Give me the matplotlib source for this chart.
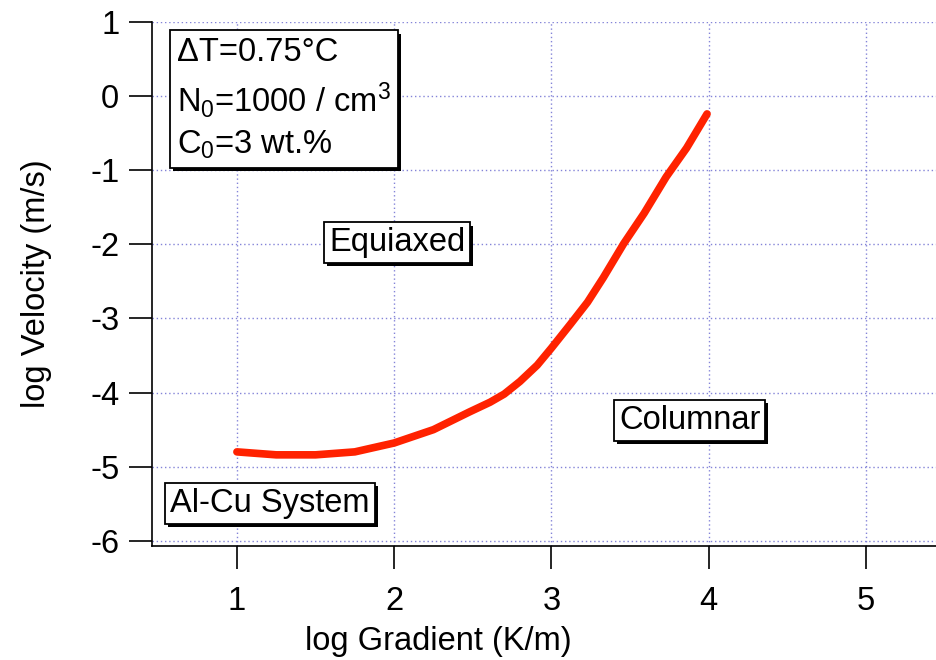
import matplotlib
matplotlib.use("Agg")
import matplotlib.pyplot as plt
import matplotlib.patheffects as pe

plt.rcParams['font.family'] = ['Liberation Sans', 'DejaVu Sans']
plt.rcParams['mathtext.fontset'] = 'custom'
plt.rcParams['mathtext.rm'] = 'Liberation Sans'
plt.rcParams['mathtext.default'] = 'regular'
plt.rcParams['axes.unicode_minus'] = False

# CET boundary
log_gradient = [1.0, 1.25, 1.5, 1.75, 2.0, 2.25, 2.48, 2.61, 2.70, 2.80, 2.91, 3.0, 3.12,
                3.23, 3.33, 3.46, 3.59, 3.73, 3.86, 3.99]
log_velocity = [-4.80, -4.84, -4.84, -4.80, -4.68, -4.50, -4.26, -4.13, -4.02, -3.85, -3.63, -3.40, -3.08,
                -2.78, -2.45, -1.99, -1.58, -1.09, -0.70, -0.24]

x_ticks = [1, 2, 3, 4, 5]
y_ticks = [1, 0, -1, -2, -3, -4, -5, -6]

info_lines = "ΔT=0.75°C\nN$_0$=1000 / cm$^3$\nC$_0$=3 wt.%"

fs = 23.5

fig = plt.figure(figsize=(9.36, 6.6), dpi=100)
ax = fig.add_axes([152/936, 114/660, 784/936, 524/660])

ax.plot(log_gradient, log_velocity, color='#ff2200', lw=5.5,
        solid_capstyle='round', solid_joinstyle='round')

ax.set_xlim(0.46, 5.446)
ax.set_ylim(-6.07, 1.0)
ax.set_xticks(x_ticks)
ax.set_yticks(y_ticks)
ax.grid(True, color='#8484d8', lw=1.0, linestyle=(0, (1, 2)))
ax.set_axisbelow(True)

for s in ['top', 'right']:
    ax.spines[s].set_visible(False)
for s in ['left', 'bottom']:
    ax.spines[s].set_linewidth(1.2)
ax.tick_params(direction='out', length=16.5, width=1.2, labelsize=fs)
ax.tick_params(axis='x', pad=12)
ax.tick_params(axis='y', pad=7)

ax.set_xlabel('log Gradient (K/m)', fontsize=fs)
ax.set_ylabel('log Velocity (m/s)', fontsize=fs)
ax.xaxis.set_label_coords(0.3655, -0.153)
ax.yaxis.set_label_coords(-0.128, 0.5)

shadow = [pe.withSimplePatchShadow(offset=(2.2, -2.2), shadow_rgbFace='k', alpha=1.0)]

def boxed(x, y, s, pad=0.15, **kw):
    t = ax.text(x, y, s, fontsize=fs, zorder=5,
                bbox=dict(boxstyle='square,pad=%g' % pad, fc='white', ec='black', lw=1.3), **kw)
    t.get_bbox_patch().set_path_effects(shadow)
    return t

boxed(0.62, -0.04, info_lines, pad=0.22, ha='left', va='center', linespacing=1.36)
boxed(2.02, -1.98, 'Equiaxed', ha='center', va='center')
boxed(3.88, -4.38, 'Columnar', ha='center', va='center')
boxed(1.21, -5.50, 'Al-Cu System', ha='center', va='center')

fig.savefig('out.png', dpi=100)
